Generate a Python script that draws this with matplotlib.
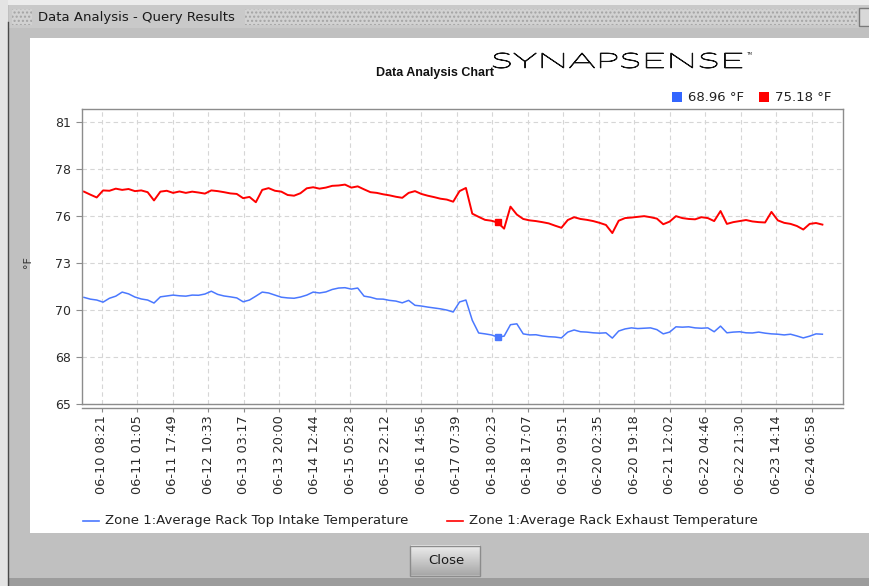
import numpy as np
import matplotlib
matplotlib.use("Agg")
import matplotlib.pyplot as plt
import matplotlib.dates as mdates
from matplotlib.ticker import FixedLocator, FixedFormatter
from matplotlib.patches import Rectangle, PathPatch
from matplotlib.textpath import TextPath
from matplotlib.font_manager import FontProperties
from matplotlib.transforms import Affine2D
from datetime import datetime, timedelta

# data: one reading every 3 hours starting 06-10 00:00
start_time = datetime(2010, 6, 10, 0, 0)
step_hours = 3

intake_temp = [
    71.05, 70.95, 70.90, 70.78, 71.00, 71.12, 71.35, 71.25, 71.07, 70.96,
    70.90, 70.73, 71.08, 71.13, 71.18, 71.14, 71.12, 71.18, 71.17, 71.24,
    71.40, 71.22, 71.13, 71.08, 71.02, 70.80, 70.90, 71.12, 71.35, 71.30,
    71.18, 71.06, 71.02, 71.00, 71.07, 71.18, 71.35, 71.30, 71.36, 71.50,
    71.58, 71.60, 71.52, 71.58, 71.12, 71.06, 70.96, 70.95, 70.88, 70.84,
    70.74, 70.88, 70.60, 70.56, 70.50, 70.45, 70.40, 70.33, 70.22, 70.79,
    70.90, 69.75, 69.03, 68.98, 68.92, 68.80, 68.85, 69.50, 69.55, 68.98,
    68.92, 68.93, 68.86, 68.82, 68.80, 68.75, 69.08, 69.20, 69.10, 69.08,
    69.04, 69.02, 69.04, 68.74, 69.14, 69.26, 69.32, 69.28, 69.30, 69.32,
    69.22, 68.98, 69.08, 69.38, 69.36, 69.38, 69.32, 69.30, 69.32, 69.10,
    69.42, 69.04, 69.08, 69.10, 69.04, 69.03, 69.08, 69.02, 68.98, 68.96,
    68.92, 68.96, 68.86, 68.75, 68.85, 68.98, 68.96,
]

exhaust_temp = [
    77.05, 76.88, 76.72, 77.12, 77.10, 77.22, 77.15, 77.20, 77.08, 77.12,
    77.02, 76.55, 77.05, 77.10, 76.98, 77.06, 76.98, 77.05, 77.00, 76.94,
    77.12, 77.08, 77.02, 76.95, 76.92, 76.68, 76.75, 76.45, 77.15, 77.25,
    77.10, 77.05, 76.86, 76.82, 76.96, 77.24, 77.30, 77.22, 77.28, 77.38,
    77.40, 77.45, 77.28, 77.35, 77.18, 77.02, 76.98, 76.90, 76.84, 76.76,
    76.70, 76.98, 77.08, 76.92, 76.82, 76.74, 76.65, 76.60, 76.48, 77.08,
    77.26, 75.80, 75.62, 75.45, 75.40, 75.30, 74.95, 76.20, 75.75, 75.50,
    75.42, 75.38, 75.32, 75.25, 75.12, 75.00, 75.44, 75.60, 75.50, 75.45,
    75.38, 75.28, 75.16, 74.70, 75.40, 75.55, 75.58, 75.62, 75.66, 75.60,
    75.52, 75.20, 75.35, 75.66, 75.55, 75.50, 75.48, 75.60, 75.55, 75.38,
    75.95, 75.22, 75.32, 75.38, 75.44, 75.36, 75.32, 75.30, 75.90, 75.42,
    75.28, 75.22, 75.10, 74.90, 75.22, 75.27, 75.18,
]

x_tick_labels = [
    "06-10 08:21", "06-11 01:05", "06-11 17:49", "06-12 10:33", "06-13 03:17",
    "06-13 20:00", "06-14 12:44", "06-15 05:28", "06-15 22:12", "06-16 14:56",
    "06-17 07:39", "06-18 00:23", "06-18 17:07", "06-19 09:51", "06-20 02:35",
    "06-20 19:18", "06-21 12:02", "06-22 04:46", "06-22 21:30", "06-23 14:14",
    "06-24 06:58",
]
y_tick_values = [65.0, 67.667, 70.333, 73.0, 75.667, 78.333, 81.0]
y_tick_labels = ["65", "68", "70", "73", "76", "78", "81"]

series_names = [
    "Zone 1:Average Rack Top Intake Temperature",
    "Zone 1:Average Rack Exhaust Temperature",
]
current_values = ["68.96 °F", "75.18 °F"]
marker_index = 65

BLUE = "#4a78ff"
RED = "#ff0000"
BLUE_BOX = "#3366ff"

W, H = 870, 586
fig = plt.figure(figsize=(W / 100, H / 100), dpi=100)

# ---- window chrome, drawn in pixel coordinates ----
bg = fig.add_axes([0, 0, 1, 1], zorder=0)
bg.axis("off")

plt.rcParams["hatch.linewidth"] = 1.0
bg.add_patch(Rectangle((0, 0), W, H, color="#c0c0c0", lw=0))
bg.add_patch(Rectangle((0, 0), W, 5, color="#ececec", lw=0))
bg.add_patch(Rectangle((0, 0), 8, H, color="#e4e4e4", lw=0))
bg.plot([8.5, 8.5], [22, H], color="#4a4a4a", lw=1)
# title bar
bg.add_patch(Rectangle((9, 5), W - 9, 23, color="#c9c9c9", lw=0))
bg.add_patch(Rectangle((12, 9), 20, 16, facecolor="#d2d2d2", edgecolor="#a4a4a4",
                       hatch="....", lw=0))
bg.add_patch(Rectangle((245, 9), 612, 16, facecolor="#d2d2d2", edgecolor="#a4a4a4",
                       hatch="....", lw=0))
bg.add_patch(Rectangle((859, 8), 14, 18, facecolor="#d8d8d8", edgecolor="#7a7a7a", lw=1))
bg.text(38, 17, "Data Analysis - Query Results", fontsize=9.5, family="DejaVu Sans",
        color="#1a1a1a", va="center", ha="left")
# white chart panel
bg.add_patch(Rectangle((30, 38), W - 30, 495, color="white", lw=0))
# close button with a light vertical gradient
top_col = np.array([0.93, 0.93, 0.93])
bot_col = np.array([0.66, 0.66, 0.66])
mix = np.linspace(0, 1, 30).reshape(-1, 1, 1)
grad = top_col * (1 - mix) + bot_col * mix
bg.imshow(grad, extent=(411, 480, 575, 545), aspect="auto", zorder=2,
          interpolation="bilinear")
bg.add_patch(Rectangle((410.5, 545.5), 70, 30, facecolor="none", edgecolor="#8c8c8c",
                       lw=1, zorder=3))
bg.text(446, 561, "Close", fontsize=9.5, family="DejaVu Sans", color="#1a1a1a",
        ha="center", va="center", zorder=4)
# bottom status strip
bg.add_patch(Rectangle((9, 578), W, 8, color="#9c9c9c", lw=0))
bg.set_xlim(0, W)
bg.set_ylim(H, 0)

# chart title and logo
bg.text(435, 73, "Data Analysis Chart", fontsize=9, fontweight="bold",
        family="Liberation Sans", ha="center", va="center", color="#111111")
logo_font = FontProperties(family="Lato", weight="light")
logo = TextPath((0, 0), "SYNAPSENSE", size=20, prop=logo_font)
ext = logo.get_extents()
sx = 249 / ext.width
sy = 15 / ext.height
logo_tr = Affine2D().translate(-ext.x0, -ext.y0).scale(sx, -sy).translate(493, 68)
bg.add_patch(PathPatch(logo_tr.transform_path(logo), facecolor="#111111",
                       edgecolor="#111111", lw=0.7))
bg.text(746, 54, "TM", fontsize=3, ha="left", va="center", color="#222222")

# current value legend (top right)
legend_x = [672, 759]
for lx, colr, txt in zip(legend_x, [BLUE_BOX, RED], current_values):
    bg.add_patch(Rectangle((lx, 92), 10, 10, color=colr, lw=0))
    bg.text(lx + 16, 97.5, txt, fontsize=9.5, family="DejaVu Sans", color="#222222",
            ha="left", va="center")

# series legend (bottom)
legend_sx = [83, 447]
for lx, colr, name in zip(legend_sx, [BLUE, RED], series_names):
    bg.plot([lx, lx + 16], [521, 521], color=colr, lw=1.2)
    bg.text(lx + 22, 520.5, name, fontsize=9.5, family="DejaVu Sans", color="#222222",
            ha="left", va="center")

# ---- the chart itself ----
left, right, top, bottom = 82, 843, 109, 404
ax = fig.add_axes([left / W, 1 - bottom / H, (right - left) / W, (bottom - top) / H],
                  zorder=5)
ax.set_facecolor("white")

times = [start_time + timedelta(hours=step_hours * i) for i in range(len(intake_temp))]
ax.plot(times, intake_temp, color=BLUE, lw=1.1)
ax.plot(times, exhaust_temp, color=RED, lw=1.4)
ax.plot(times[marker_index], intake_temp[marker_index], "s", ms=4.5, color=BLUE)
ax.plot(times[marker_index], exhaust_temp[marker_index], "s", ms=4.5, color=RED)

tick_times = [datetime.strptime("2010-" + t, "%Y-%m-%d %H:%M") for t in x_tick_labels]
ax.set_xlim(datetime(2010, 6, 9, 23, 4), datetime(2010, 6, 24, 21, 43))
ax.xaxis.set_major_locator(FixedLocator(mdates.date2num(tick_times)))
ax.xaxis.set_major_formatter(FixedFormatter(x_tick_labels))
ax.tick_params(axis="x", labelrotation=90, labelsize=9.3, labelcolor="#2a2a2a")
for lbl in ax.get_xticklabels():
    lbl.set_family("Liberation Sans")

ax.set_ylim(65, 81.74)
ax.set_yticks(y_tick_values)
ax.set_yticklabels(y_tick_labels, fontsize=9, family="DejaVu Sans", color="#2a2a2a")
ax.set_ylabel("°F", fontsize=8, family="DejaVu Sans", color="#333333")
ax.yaxis.set_label_coords((33 - left) / (right - left), 0.48)

ax.grid(True, color="#d6d6d6", linestyle=(0, (4, 3)), lw=0.8)
ax.set_axisbelow(True)

for side in ["top", "right", "left"]:
    ax.spines[side].set_color("#8c8c8c")
    ax.spines[side].set_linewidth(1.0)
ax.spines["bottom"].set_position(("outward", 3))
ax.spines["bottom"].set_color("#8c8c8c")
ax.spines["bottom"].set_linewidth(1.0)
ax.axhline(65, color="#8c8c8c", lw=1.0, clip_on=False)

ax.tick_params(axis="y", length=4, width=0.8, color="#8c8c8c", pad=4)
ax.tick_params(axis="x", length=3, width=0.8, color="#8c8c8c", pad=2)

fig.savefig("out.png", dpi=100)
